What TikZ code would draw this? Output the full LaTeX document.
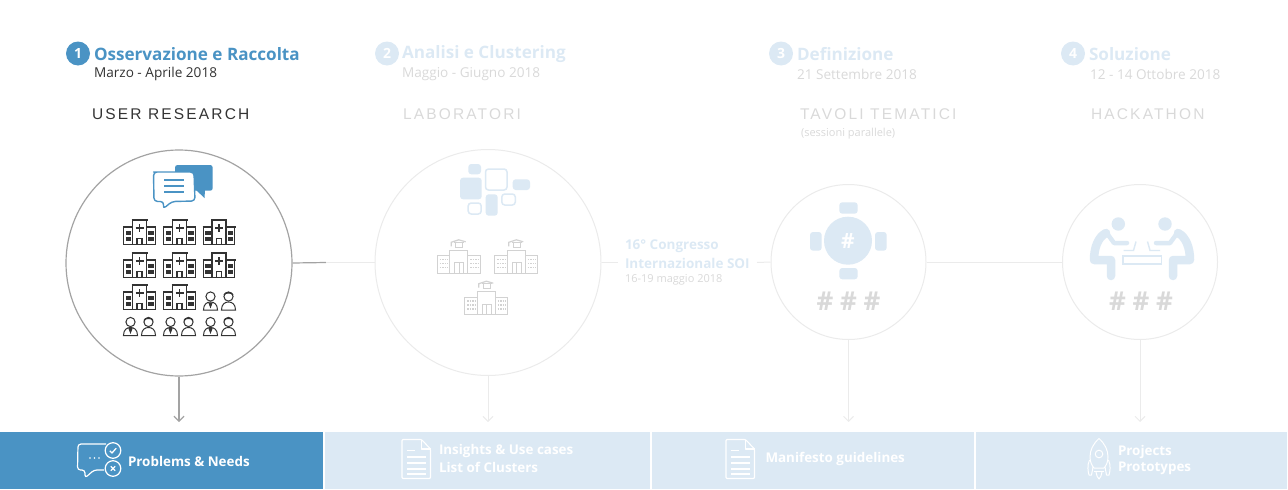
\documentclass[tikz,border=0pt]{standalone}
\usepackage{fontspec}
\usetikzlibrary{arrows.meta}
\setmainfont{Open Sans}
\newfontfamily\widefont[LetterSpace=14]{Liberation Sans}
\newfontfamily\hashfont[LetterSpace=26]{Open Sans}
\definecolor{bluemain}{HTML}{4A93C4}
\definecolor{bluepale}{HTML}{DCE9F4}
\definecolor{linepale}{HTML}{EBEBEB}
\definecolor{linedark}{HTML}{A3A3A3}
\definecolor{textpale}{HTML}{D9D9D9}
\definecolor{inkdark}{HTML}{333333}
\definecolor{schoolgray}{HTML}{D2D2D2}
\tikzset{
  txt/.style={anchor=west,inner sep=0pt,outer sep=0pt},
  stagetitle/.style={txt,font=\bfseries\fontsize{17.1}{19}\selectfont},
  stagedate/.style={txt,font=\fontsize{13.6}{15}\selectfont},
  stagename/.style={txt,font=\widefont\fontsize{15.5}{17}\selectfont},
  numdot/.style={circle,minimum size=24pt,inner sep=0pt,text=white,font=\bfseries\fontsize{14}{16}\selectfont},
  bigcirc/.style={circle,inner sep=0pt,draw=linepale,line width=1pt,fill=white},
  barbox/.style={anchor=north west,minimum height=57pt,inner sep=0pt,outer sep=0pt,fill=bluepale},
  bartext/.style={txt,text=white,font=\bfseries\fontsize{13.4}{16}\selectfont},
  link/.style={draw=linepale,line width=1pt},
  downarrow/.style={draw=linepale,line width=1pt,-{Straight Barb[length=5pt,width=10pt]}},
  hospital/.pic={
    \begin{scope}[draw=inkdark,line width=1.3pt]
      \draw[fill=white] (0.7,8.5) rectangle (32.3,25.6);
      \draw[line width=1.7pt] (0,8) -- (33,8);
      \draw[fill=white] (9.5,1) rectangle (23.5,25.6);
      \draw[line width=1.7pt] (8.5,1) -- (24.5,1);
      \draw[line width=1.7pt] (16.5,5) -- (16.5,13) (12.5,9) -- (20.5,9);
      \draw[fill=inkdark,line width=0.6pt] (3,12) rectangle (7.5,15.5) (3,18) rectangle (7.5,21.5);
      \draw[fill=inkdark,line width=0.6pt] (25.5,12) rectangle (30,15.5) (25.5,18) rectangle (30,21.5);
      \draw (14,25.6) -- (14,19.5) -- (19,19.5) -- (19,25.6);
    \end{scope}
  },
  personpair/.pic={
    \begin{scope}[draw=inkdark,line width=1pt]
      \draw (7.5,5.5) circle[radius=4.6];
      \draw (0.5,19) .. controls (0.5,13) and (4,11) .. (7.5,11) .. controls (11,11) and (14.5,13) .. (14.5,19) -- cycle;
      \draw[fill=inkdark] (6,12) -- (9,12) -- (7.5,16) -- cycle;
      \draw (25.5,5.5) circle[radius=4.6];
      \draw[line width=1.4pt] (21,4) .. controls (22,1) and (29,1) .. (30,4);
      \draw (18.5,19) .. controls (18.5,13) and (22,11) .. (25.5,11) .. controls (29,11) and (32.5,13) .. (32.5,19) -- cycle;
    \end{scope}
  },
  school/.pic={
    \begin{scope}[draw=schoolgray,line width=1.2pt]
      \draw (0.5,16.5) rectangle (43.5,34);
      \draw[fill=white] (13,11) rectangle (31,34);
      \draw (18,34) -- (18,23.5) -- (27,23.5) -- (27,34) (22.5,23.5) -- (22.5,34);
      \draw[line width=1.6pt,dash pattern=on 1.5pt off 1pt] (3,20) -- (11,20) (3,24) -- (11,24) (3,28) -- (11,28)
        (33.5,20) -- (41.5,20) (33.5,24) -- (41.5,24) (33.5,28) -- (41.5,28);
      \draw (17.5,3) -- (27.5,3) (19,3.5) -- (19,8) -- (26,8) -- (26,3.5);
      \draw (14.5,7) -- (14.5,3) -- (22,0.5) -- (29,2.5);
    \end{scope}
  },
  docicon/.pic={
    \begin{scope}[draw=white,line width=1.1pt,line join=round]
      \draw[rounded corners=1pt] (0.5,0.5) -- (20,0.5) -- (29,10) -- (29,39.5) -- (0.5,39.5) -- cycle;
      \draw (20,0.5) -- (20,10) -- (29,10);
      \draw[line width=1.3pt] (5,11.5) -- (13,11.5) (5,18) -- (24,18) (5,24) -- (24,24) (5,30) -- (24,30) (5,35) -- (24,35);
    \end{scope}
  },
}
\begin{document}
\begin{tikzpicture}[x=1pt,y=-1pt]
\useasboundingbox (0,0) rectangle (1288,490);

% main circles
\node[bigcirc,minimum size=226pt,draw=linedark,line width=1.2pt] (c1) at (179,263) {};
\node[bigcirc,minimum size=226pt] (c2) at (488,262.5) {};
\node[bigcirc,minimum size=155pt] (c3) at (848.5,262) {};
\node[bigcirc,minimum size=155pt] (c4) at (1140,262) {};

% bars
\node[barbox,minimum width=322.5pt,fill=bluemain] (b1) at (0,432) {};
\node[barbox,minimum width=325pt] (b2) at (325,432) {};
\node[barbox,minimum width=321.5pt] (b3) at (652,432) {};
\node[barbox,minimum width=311pt] (b4) at (976,432) {};

% headers
\node[numdot,fill=bluemain] (n1) at (78,53.5) {1};
\node[numdot,fill=bluepale] (n2) at (387,53.5) {2};
\node[numdot,fill=bluepale] (n3) at (781,53.5) {3};
\node[numdot,fill=bluepale] (n4) at (1073,53.5) {4};
\node[stagetitle,text=bluemain] (t1) at (94,54.5) {Osservazione e Raccolta};
\node[stagetitle,text=bluepale] (t2) at (402,54.5) {Analisi e Clustering};
\node[stagetitle,text=bluepale] (t3) at (797,54.5) {Definizione};
\node[stagetitle,text=bluepale] (t4) at (1089,54.5) {Soluzione};
\node[stagedate,text=inkdark] (d1) at (94,74) {Marzo - Aprile 2018};
\node[stagedate,text=textpale] (d2) at (402,74) {Maggio - Giugno 2018};
\node[stagedate,text=textpale] (d3) at (797,74) {21 Settembre 2018};
\node[stagedate,text=textpale] (d4) at (1090,74) {12 - 14 Ottobre 2018};
\node[stagename,text=inkdark] (s1) at (92,114) {USER RESEARCH};
\node[stagename,text=textpale] (s2) at (403,114) {LABORATORI};
\node[stagename,text=textpale] (s3) at (800,114) {TAVOLI TEMATICI};
\node[stagename,text=textpale] (s4) at (1091,114) {HACKATHON};
\node[txt,text=textpale,font=\fontsize{11}{12}\selectfont] (s3b) at (801,133.5) {(sessioni parallele)};

% congress
\node[txt,text=bluepale,font=\bfseries\fontsize{13.5}{15}\selectfont] (k1) at (625,246) {16° Congresso};
\node[txt,text=bluepale,font=\bfseries\fontsize{13.5}{15}\selectfont] (k2) at (625,263.5) {Internazionale SOI};
\node[txt,text=textpale,font=\fontsize{11}{12}\selectfont] (k3) at (625,280) {16-19 maggio 2018};

% connectors
\coordinate (m12) at (326,262.5);
\draw[draw=linedark,line width=1.2pt] (c1.east) -- (m12);
\draw[link] (m12) -- (c2.west);
\coordinate (kl) at (618,262.5);
\coordinate (kr) at (757,262.5);
\draw[link] (c2.east) -- (kl);
\draw[link] (kr) -- (c3.west);
\draw[link] (c3.east) -- (c4.west);
\coordinate (a1) at (179,422);
\coordinate (a2) at (488,422);
\coordinate (a3) at (848.5,422);
\coordinate (a4) at (1140,422);
\draw[downarrow,draw=linedark,line width=1.2pt] (c1.south) -- (a1);
\draw[downarrow] (c2.south) -- (a2);
\draw[downarrow] (c3.south) -- (a3);
\draw[downarrow] (c4.south) -- (a4);

% chat icon
\fill[bluemain,rounded corners=2.5pt] (175,165) rectangle (212.7,190.7);
\fill[bluemain] (196,190) -- (204.5,198) -- (205,190) -- cycle;
\draw[bluemain,line width=1.4pt,fill=white,rounded corners=3.5pt,line join=round]
  (157,172) -- (194,172) -- (195,201) -- (172,201.5) -- (163,209) -- (164,201.5) -- (154,201.5) -- (153.5,172) -- cycle;
\draw[bluemain,line width=1.4pt] (164,180) -- (184,180) (164,186) -- (184,186) (164,192) -- (184,192);

% hospitals and people
\foreach \cx/\cy in {123/219,163/219,202.5/219,123/252,163/252,202.5/252,123/284,163/284}
  \pic at (\cx,\cy) {hospital};
\foreach \cx/\cy in {203/291,123/316.5,163/316.5,203/316.5}
  \pic at (\cx,\cy) {personpair};

% cluster icon
\begin{scope}[rounded corners=3pt]
\fill[bluepale] (468.3,164) rectangle (481,174.3);
\fill[bluepale] (460,177.7) rectangle (481.7,199.3);
\fill[bluepale] (512.7,179.3) rectangle (530,190);
\fill[bluepale] (485.7,194.3) rectangle (497.7,215.7);
\draw[bluepale,line width=1.5pt] (485.5,169) rectangle (507,190);
\draw[bluepale,line width=1.5pt] (501.8,194) rectangle (515.3,205);
\draw[bluepale,line width=1.5pt] (468.2,203) rectangle (481.2,214);
\end{scope}

% schools
\pic at (436.7,239.3) {school};
\pic at (494.3,239.3) {school};
\pic at (464.3,280.7) {school};

% table icon
\fill[bluepale] (848,240.7) circle[radius=24];
\fill[bluepale,rounded corners=3pt] (839.3,202.3) rectangle (857.7,213.7);
\fill[bluepale,rounded corners=3pt] (839.3,268) rectangle (857.7,279.3);
\fill[bluepale,rounded corners=3pt] (810,232) rectangle (821.7,250.7);
\fill[bluepale,rounded corners=3pt] (875,232) rectangle (886.7,250.7);
\node[inner sep=0pt,text=white,font=\bfseries\fontsize{21}{24}\selectfont] (h0) at (848,241) {\#};
\node[inner sep=0pt,text=textpale,font=\hashfont\bfseries\fontsize{26}{28}\selectfont] (h1) at (848.5,301) {\#\#\#};
\node[inner sep=0pt,text=textpale,font=\hashfont\bfseries\fontsize{26}{28}\selectfont] (h2) at (1141,301) {\#\#\#};

% hackathon icon
\begin{scope}[bluepale]
\fill (1118.3,224) circle[radius=6.7];
\fill (1165,224) circle[radius=6.7];
\draw[line width=8.5pt,line cap=round,line join=round] (1106,233) .. controls (1098,237) and (1094,248) .. (1094,260) -- (1111,260) -- (1111,276);
\draw[line width=8.5pt,line cap=round,line join=round] (1178,233) .. controls (1186,237) and (1190,248) .. (1190,260) -- (1173,260) -- (1173,276);
\draw[line width=4.5pt,line cap=round,line join=round] (1106,232) -- (1114,243) -- (1127,243);
\draw[line width=4.5pt,line cap=round,line join=round] (1178,232) -- (1170,243) -- (1156,243);
\draw[line width=1.6pt] (1123,256) rectangle (1161.5,264);
\draw[line width=1.4pt] (1123.5,250.5) -- (1133.5,250.5) -- (1136,241.5);
\draw[line width=1.4pt] (1160,250.5) -- (1150,250.5) -- (1147.5,241.5);
\end{scope}

% bar 1 icon
\begin{scope}[white,line width=1.2pt,line join=round]
\draw[rounded corners=3pt] (106,444) -- (78,444) -- (77.5,470) -- (85,470) -- (85,478) -- (94,470) -- (104,470);
\fill (90,458) circle[radius=0.9] (94.5,458) circle[radius=0.9] (99,458) circle[radius=0.9];
\draw (113,450.5) circle[radius=7.8];
\draw (113,468.5) circle[radius=7.8];
\draw[line width=1.3pt] (109.8,450.8) -- (112,453) -- (116.2,448.2);
\draw[line width=1.3pt] (110.8,466.3) -- (115.2,470.7) (115.2,466.3) -- (110.8,470.7);
\end{scope}
\node[bartext] (bt1) at (128,461) {Problems \& Needs};

% bar 2 and 3 icons
\pic at (401.5,439) {docicon};
\pic at (725.5,439) {docicon};
\node[bartext] (bt2a) at (439,451) {Insights \& Use cases};
\node[bartext] (bt2b) at (439,467.5) {List of Clusters};
\node[bartext] (bt3) at (765.5,459) {Manifesto guidelines};

% rocket icon
\begin{scope}[white,line width=1pt,line join=round]
\draw (1099,438.5) .. controls (1093,444) and (1090,450) .. (1090,457) .. controls (1090,462) and (1092,466) .. (1094,468) -- (1104,468) .. controls (1106,466) and (1108,462) .. (1108,457) .. controls (1108,450) and (1105,444) .. (1099,438.5) -- cycle;
\draw (1099,454) circle[radius=3.8];
\draw (1094,471) -- (1104,471);
\draw (1089.5,460) .. controls (1087,465) and (1088,472) .. (1089,475) -- (1091.5,475) -- (1093,467);
\draw (1108.5,460) .. controls (1111,465) and (1110,472) .. (1109,475) -- (1106.5,475) -- (1105,467);
\draw (1096,472) .. controls (1096,475) and (1098,478) .. (1099,479) .. controls (1100,478) and (1102,475) .. (1102,472);
\end{scope}
\node[bartext] (bt4a) at (1118,452) {Projects};
\node[bartext] (bt4b) at (1118,468) {Prototypes};
\end{tikzpicture}
\end{document}
